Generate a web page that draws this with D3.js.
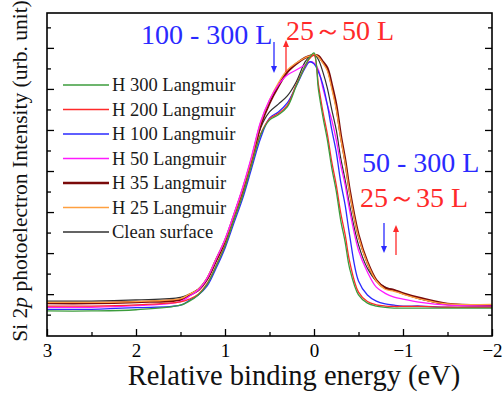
<!DOCTYPE html>
<html>
<head>
<meta charset="utf-8">
<script src="https://cdn.jsdelivr.net/npm/d3@7"></script>
<style>
  body { margin: 0; background: #fff; }
  svg { display: block; }
  text { font-family: "Liberation Serif", "DejaVu Serif", serif; }
</style>
</head>
<body>
<div id="chart"></div>
<script>
// relative binding energy (eV)
const energy = [3.0, 2.5, 2.0, 1.5, 1.4, 1.3, 1.2, 1.1, 1.0, 0.9, 0.8, 0.7, 0.6, 0.5, 0.4, 0.3, 0.2, 0.1, 0.05, 0.0,
  -0.05, -0.1, -0.15, -0.2, -0.25, -0.3, -0.35, -0.4, -0.5, -0.6, -0.7, -0.8, -0.9, -1.0, -1.2, -1.5, -2.0];

// intensities (arb. units)
const h300 = [-0.41, -0.41, -0.38, -0.27, -0.17, -0.02, 0.24, 0.68, 1.17, 1.80, 2.41, 3.15, 3.88, 4.24, 4.37, 4.56, 5.07, 5.56, 5.76, 5.88,
  4.98, 4.32, 3.76, 3.07, 2.51, 1.80, 1.27, 0.63, -0.02, -0.22, -0.29, -0.32, -0.34, -0.34, -0.34, -0.34, -0.34];
const h200 = [-0.29, -0.29, -0.26, -0.19, -0.12, 0.0, 0.26, 0.70, 1.19, 1.82, 2.44, 3.18, 3.90, 4.27, 4.40, 4.60, 5.10, 5.55, 5.74, 5.82,
  5.10, 4.45, 3.90, 3.22, 2.66, 1.98, 1.45, 0.80, 0.05, -0.18, -0.26, -0.29, -0.30, -0.30, -0.30, -0.32, -0.32];
const h100 = [-0.37, -0.37, -0.33, -0.27, -0.15, -0.02, 0.20, 0.63, 1.12, 1.73, 2.34, 3.07, 3.80, 4.29, 4.44, 4.66, 5.07, 5.51, 5.66, 5.61,
  5.41, 5.10, 4.61, 4.00, 3.46, 2.73, 2.17, 1.44, 0.32, -0.02, -0.17, -0.24, -0.27, -0.29, -0.29, -0.32, -0.32];
const h50 = [-0.32, -0.32, -0.28, -0.18, -0.05, 0.10, 0.39, 0.85, 1.34, 1.95, 2.61, 3.37, 4.20, 4.73, 5.10, 5.34, 5.46, 5.59, 5.66, 5.63,
  5.46, 5.02, 4.61, 4.24, 3.76, 3.15, 2.66, 2.05, 1.07, 0.54, 0.17, 0.02, -0.07, -0.12, -0.20, -0.27, -0.29];
const h35 = [-0.22, -0.22, -0.19, -0.13, -0.02, 0.10, 0.37, 0.83, 1.29, 1.90, 2.54, 3.27, 4.12, 4.66, 5.07, 5.41, 5.61, 5.76, 5.80, 5.83,
  5.80, 5.66, 5.51, 5.10, 4.61, 3.88, 3.27, 2.54, 1.44, 0.78, 0.34, 0.15, 0.10, 0.02, -0.10, -0.24, -0.27];
const h25 = [-0.20, -0.20, -0.18, -0.11, 0.0, 0.12, 0.40, 0.86, 1.32, 1.93, 2.58, 3.32, 4.18, 4.73, 5.15, 5.46, 5.63, 5.76, 5.80, 5.85,
  5.78, 5.63, 5.44, 5.00, 4.50, 3.80, 3.20, 2.48, 1.40, 0.75, 0.32, 0.12, 0.07, 0.0, -0.12, -0.24, -0.25];
const clean = [-0.17, -0.17, -0.14, -0.08, 0.0, 0.12, 0.37, 0.80, 1.27, 1.88, 2.49, 3.22, 4.05, 4.44, 4.63, 4.83, 5.17, 5.66, 5.78, 5.85,
  5.71, 5.41, 5.02, 4.49, 4.00, 3.32, 2.78, 2.17, 1.20, 0.63, 0.32, 0.17, 0.10, 0.02, -0.12, -0.24, -0.27];

const legendNames = ['H 300 Langmuir', 'H 200 Langmuir', 'H 100 Langmuir', 'H 50 Langmuir', 'H 35 Langmuir', 'H 25 Langmuir', 'Clean surface'];
const xTicks = [3, 2, 1, 0, -1, -2];
const xMinor = [2.5, 1.5, 0.5, -0.5, -1.5];
const yTicks = [0, 1, 2, 3, 4, 5, 6];
const yMinor = [-0.5, 0.5, 1.5, 2.5, 3.5, 4.5, 5.5, 6.5];

const colors = {
  h300: '#3c9c3c', h200: '#ff2a2a', h100: '#2a2aff', h50: '#ff1aff',
  h35: '#7a0a0a', h25: '#ffa040', clean: '#303030'
};

const series = [
  { key: 'h300', name: legendNames[0], values: h300, w: 1.3 },
  { key: 'h200', name: legendNames[1], values: h200, w: 1.3 },
  { key: 'h100', name: legendNames[2], values: h100, w: 1.3 },
  { key: 'h50', name: legendNames[3], values: h50, w: 1.3 },
  { key: 'h35', name: legendNames[4], values: h35, w: 2.4 },
  { key: 'h25', name: legendNames[5], values: h25, w: 1.3 },
  { key: 'clean', name: legendNames[6], values: clean, w: 1.2 }
];
const drawOrder = ['clean', 'h35', 'h25', 'h50', 'h100', 'h200', 'h300'];

const W = 504, H = 397;
const margin = { top: 13, right: 12, bottom: 61, left: 47 };
const width = W - margin.left - margin.right;
const height = H - margin.top - margin.bottom;

const svg = d3.select('#chart').append('svg')
  .attr('width', W)
  .attr('height', H);

const chart = svg.append('g')
  .attr('transform', `translate(${margin.left},${margin.top})`);

const x = d3.scaleLinear().domain([3, -2]).range([0, width]);
const y = d3.scaleLinear().domain([-1.02, 6.85]).range([height, 0]);

// curves
const line = d3.line()
  .x((d, i) => x(energy[i]))
  .y(d => y(d))
  .curve(d3.curveCatmullRom.alpha(0.5));

chart.append('defs').append('clipPath').attr('id', 'clip')
  .append('rect').attr('width', width).attr('height', height);

const curves = chart.append('g').attr('clip-path', 'url(#clip)');
drawOrder.forEach(k => {
  const s = series.find(d => d.key === k);
  curves.append('path')
    .attr('d', line(s.values))
    .attr('fill', 'none')
    .attr('stroke', colors[k])
    .attr('stroke-width', s.w)
    .attr('stroke-linejoin', 'round');
});

// axes (ticks point inward)
function styleAxis(g) {
  g.select('.domain').remove();
  g.selectAll('line').attr('stroke', '#000').attr('stroke-width', 1.3);
}

chart.append('g')
  .attr('transform', `translate(0,${height})`)
  .call(d3.axisBottom(x).tickValues(xTicks).tickSize(-7).tickPadding(8).tickFormat(d3.format('d')))
  .call(styleAxis)
  .selectAll('text')
  .attr('fill', '#000')
  .style('font-size', '19px');

chart.append('g')
  .attr('transform', `translate(0,${height})`)
  .call(d3.axisBottom(x).tickValues(xMinor).tickSize(-4).tickFormat(''))
  .call(styleAxis);

chart.append('g')
  .call(d3.axisLeft(y).tickValues(yTicks).tickSize(-7).tickFormat(''))
  .call(styleAxis);
chart.append('g')
  .call(d3.axisLeft(y).tickValues(yMinor).tickSize(-4).tickFormat(''))
  .call(styleAxis);
chart.append('g')
  .attr('transform', `translate(${width},0)`)
  .call(d3.axisRight(y).tickValues(yTicks).tickSize(-7).tickFormat(''))
  .call(styleAxis);
chart.append('g')
  .attr('transform', `translate(${width},0)`)
  .call(d3.axisRight(y).tickValues(yMinor).tickSize(-4).tickFormat(''))
  .call(styleAxis);

// frame
chart.append('rect')
  .attr('width', width)
  .attr('height', height)
  .attr('fill', 'none')
  .attr('stroke', '#000')
  .attr('stroke-width', 1.6);

// legend
const legend = chart.append('g').attr('transform', 'translate(16,72)');
series.forEach((s, i) => {
  const gy = i * 24.5;
  legend.append('line')
    .attr('x1', 0).attr('x2', 46)
    .attr('y1', gy).attr('y2', gy)
    .attr('stroke', colors[s.key])
    .attr('stroke-width', s.key === 'h35' ? 2.6 : 1.6);
  legend.append('text')
    .attr('x', 49).attr('y', gy + 6)
    .attr('fill', '#1a1a1a')
    .style('font-size', '18.5px')
    .text(s.name);
});

// annotations
function note(txt, tx, ty, color, size) {
  chart.append('text')
    .attr('x', tx).attr('y', ty)
    .attr('fill', color)
    .style('font-size', size + 'px')
    .text(txt);
}
note('100 - 300 L', 94, 31, '#2a2aff', 28);
note('25～50 L', 239, 27, '#ff2a2a', 28);
note('50 - 300 L', 315, 159, '#2a2aff', 28);
note('25～35 L', 313, 194, '#ff2a2a', 28);

function arrow(ax, y0, y1, color) {
  const dir = y1 > y0 ? 1 : -1;
  chart.append('line')
    .attr('x1', ax).attr('x2', ax)
    .attr('y1', y0).attr('y2', y1 - dir * 5)
    .attr('stroke', color).attr('stroke-width', 1.3);
  chart.append('path')
    .attr('d', `M${ax - 3},${y1 - dir * 7}L${ax + 3},${y1 - dir * 7}L${ax},${y1}Z`)
    .attr('fill', color);
}
arrow(227, 29, 60, '#2a2aff');
arrow(239, 59, 27, '#ff2a2a');
arrow(337, 210, 240, '#2a2aff');
arrow(349, 242, 212, '#ff2a2a');

// axis titles
svg.append('text')
  .attr('x', 294)
  .attr('y', 385)
  .attr('text-anchor', 'middle')
  .attr('fill', '#111')
  .style('font-size', '28.5px')
  .text('Relative binding energy (eV)');

const yl = svg.append('text')
  .attr('transform', `translate(27,${margin.top + 158}) rotate(-90)`)
  .attr('text-anchor', 'middle')
  .attr('fill', '#111')
  .style('font-size', '21.5px');
yl.append('tspan').text('Si 2');
yl.append('tspan').style('font-style', 'italic').text('p');
yl.append('tspan').text(' photoelectron Intensity (urb. unit)');
</script>
</body>
</html>
